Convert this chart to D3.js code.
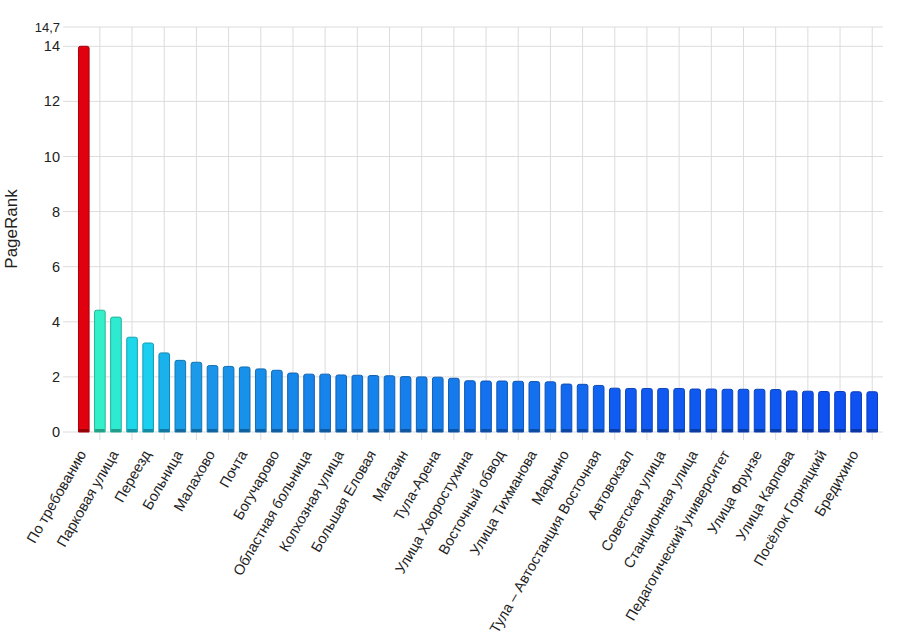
<!DOCTYPE html>
<meta charset="utf-8">
<style>
    body { margin: 0; background: #fff; }
    text { font-family: "Liberation Sans", Arial, sans-serif; fill: #222; }
    .grid line { stroke: #dcdcdc; stroke-width: 1px; }
    .axis text { font-size: 14.5px; }
    .xlab { font-size: 14.5px; }
</style>
<body>
<script src="https://d3js.org/d3.v7.min.js"></script>
<script>
// PageRank of each stop, sorted descending (50 bars)
var values = [
    14.0, 4.42, 4.17, 3.44, 3.23, 2.87, 2.60, 2.53, 2.41, 2.38,
    2.36, 2.29, 2.24, 2.14, 2.10, 2.10, 2.07, 2.06, 2.05, 2.04,
    2.01, 2.00, 1.99, 1.95, 1.86, 1.85, 1.85, 1.84, 1.83, 1.82,
    1.74, 1.73, 1.69, 1.59, 1.58, 1.58, 1.58, 1.58, 1.56, 1.56,
    1.55, 1.55, 1.55, 1.54, 1.49, 1.48, 1.47, 1.47, 1.46, 1.46
];

// labels shown under every second bar
var tickLabels = [
    "По требованию", "Парковая улица", "Переезд", "Больница", "Малахово",
    "Почта", "Богучарово", "Областная больница", "Колхозная улица", "Большая Еловая",
    "Магазин", "Тула-Арена", "Улица Хворостухина", "Восточный обвод", "Улица Тихманова",
    "Марьино", "Тула – Автостанция Восточная", "Автовокзал", "Советская улица", "Станционная улица",
    "Педагогический университет", "Улица Фрунзе", "Улица Карпова", "Посёлок Горняцкий", "Бредихино"
];

var yTicks = [0, 2, 4, 6, 8, 10, 12, 14, 14.7];
var yMax = 14.7;

var width = 900, height = 644;
var margin = {top: 27, right: 17, bottom: 212, left: 73};

var svg = d3.select("body").append("svg")
    .attr("width", width)
    .attr("height", height);

var x = d3.scaleBand()
    .domain(d3.range(values.length))
    .range([margin.left, width - margin.right])
    .padding(0.34);

var y = d3.scaleLinear()
    .domain([0, yMax])
    .range([height - margin.bottom, margin.top]);

var color = d3.scaleLinear()
    .domain([1.46, 2.0, 2.6, 3.3, 4.42])
    .range(["#0e50f2", "#167fec", "#1a9de9", "#1ad4f0", "#34f0c8"]);

function barColor(d, i) { return i === 0 ? "#e0000e" : color(d); }

var x0 = margin.left - 10, x1 = width - margin.right;

// horizontal grid
var grid = svg.append("g").attr("class", "grid");
grid.selectAll(".h").data(yTicks).enter().append("line")
    .attr("x1", x0).attr("x2", x1)
    .attr("y1", function(d) { return y(d); })
    .attr("y2", function(d) { return y(d); });

// vertical grid on every odd bar
var oddIdx = d3.range(1, values.length, 2);
grid.selectAll(".v").data(oddIdx).enter().append("line")
    .attr("x1", function(d) { return x(d) + x.bandwidth() / 2; })
    .attr("x2", function(d) { return x(d) + x.bandwidth() / 2; })
    .attr("y1", y(yMax))
    .attr("y2", y(0) + 8);

// y labels
svg.append("g").attr("class", "axis")
    .selectAll("text").data(yTicks).enter().append("text")
    .attr("x", 60)
    .attr("y", function(d) { return y(d); })
    .attr("dy", "0.35em")
    .attr("text-anchor", "end")
    .style("font-size", function(d) { return d === yMax ? "13px" : null; })
    .text(function(d) { return String(d).replace(".", ","); });

svg.append("text")
    .attr("transform", "translate(11," + 229 + ") rotate(-90)")
    .attr("dy", "0.35em")
    .attr("text-anchor", "middle")
    .style("font-size", "17px")
    .text("PageRank");

// bars with rounded tops
function barPath(d, i) {
    var bx = x(i), bw = x.bandwidth(), top = y(d), bot = y(0), r = 2;
    return "M" + bx + "," + bot +
        "V" + (top + r) +
        "Q" + bx + "," + top + " " + (bx + r) + "," + top +
        "H" + (bx + bw - r) +
        "Q" + (bx + bw) + "," + top + " " + (bx + bw) + "," + (top + r) +
        "V" + bot + "Z";
}

svg.append("g").selectAll("path").data(values).enter().append("path")
    .attr("d", barPath)
    .attr("fill", barColor)
    .attr("stroke", function(d, i) { return d3.color(barColor(d, i)).darker(0.8); })
    .attr("stroke-width", 1);

// darker strip at bar foot
svg.append("g").selectAll("rect").data(values).enter().append("rect")
    .attr("x", function(d, i) { return x(i) + 0.5; })
    .attr("width", x.bandwidth() - 1)
    .attr("y", y(0) - 3)
    .attr("height", 3)
    .attr("fill", function(d, i) { return d3.color(barColor(d, i)).darker(1.1); });

// rotated category labels
svg.append("g").selectAll("text").data(tickLabels).enter().append("text")
    .attr("class", "xlab")
    .attr("text-anchor", "end")
    .attr("transform", function(d, i) {
        var cx = x(i * 2) + x.bandwidth() / 2 + 3;
        return "translate(" + cx + "," + (y(0) + 22) + ") rotate(-60)";
    })
    .text(function(d) { return d; });
</script>
</body>
